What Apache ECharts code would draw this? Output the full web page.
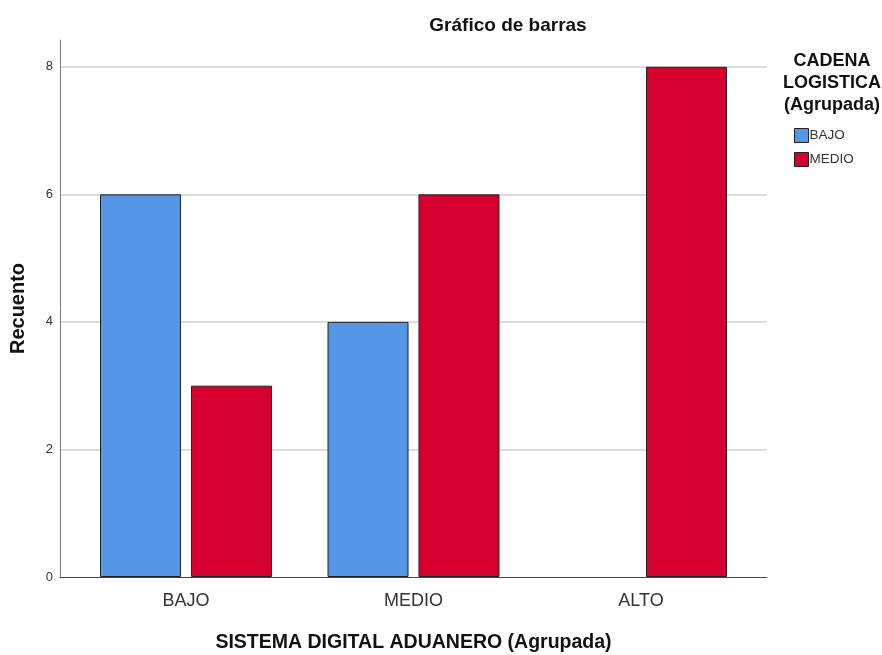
<!DOCTYPE html>
<html>
<head>
<meta charset="utf-8">
<script src="https://cdn.jsdelivr.net/npm/echarts@6/dist/echarts.min.js"></script>
<style>html,body{margin:0;padding:0;background:#fff}#c{width:882px;height:655px}</style>
</head>
<body>
<div id="c"></div>
<script>
const categories = ['BAJO', 'MEDIO', 'ALTO'];
const seriesNames = ['BAJO', 'MEDIO'];
const bajoValues = [6, 4, null];
const medioValues = [3, 6, 8];
const yTicks = [0, 2, 4, 6, 8];

const chart = echarts.init(document.getElementById('c'));
const font = 'Liberation Sans, Arial, sans-serif';
const colors = ['#5596E6', '#D6002F'];
const yMax = 8.42;

chart.setOption({
  animation: false,
  backgroundColor: '#fff',
  textStyle: { fontFamily: font },
  title: [
    { text: 'Gráfico de barras', left: 508, top: 16, textAlign: 'center', padding: 0,
      textStyle: { fontFamily: font, fontSize: 19, fontWeight: 'bold', color: '#111' } },
    { text: 'CADENA\nLOGISTICA\n(Agrupada)', left: 832, top: 50, textAlign: 'center', padding: 0,
      textStyle: { fontFamily: font, fontSize: 18, fontWeight: 'bold', color: '#111', lineHeight: 22 } }
  ],
  legend: {
    data: seriesNames, orient: 'vertical', left: 794, top: 128, padding: 0,
    itemWidth: 14, itemHeight: 14, itemGap: 9, icon: 'rect',
    textStyle: { fontFamily: font, fontSize: 13.5, color: '#333', padding: [0, 0, 0, -4] },
    itemStyle: { borderColor: '#222', borderWidth: 1 }
  },
  grid: [
    { left: 60, right: 115, top: 40, bottom: 78, outerBoundsMode: 'none', containLabel: false },
    { left: 72.25, width: 682.5, top: 40, bottom: 78, outerBoundsMode: 'none', containLabel: false }
  ],
  xAxis: [
    { type: 'value', gridIndex: 0, min: 0, max: 1, axisLabel: { show: false },
      axisTick: { show: false }, splitLine: { show: false },
      axisLine: { show: true, lineStyle: { color: '#444', width: 1 } },
      name: 'SISTEMA DIGITAL ADUANERO (Agrupada)', nameLocation: 'middle', nameGap: 56,
      nameTextStyle: { fontFamily: font, fontSize: 19.5, fontWeight: 'bold', color: '#111' } },
    { type: 'category', gridIndex: 1, data: categories,
      axisLine: { show: false }, axisTick: { show: false },
      axisLabel: { fontFamily: font, fontSize: 18, color: '#333', margin: 15 } }
  ],
  yAxis: [
    { type: 'value', gridIndex: 0, min: 0, max: yMax, interval: 2,
      axisLine: { show: true, lineStyle: { color: '#777', width: 1 } },
      axisTick: { show: false },
      axisLabel: { showMaxLabel: false, fontFamily: font, fontSize: 13, color: '#333', margin: 7,
        formatter: v => yTicks.includes(v) ? String(v) : '' },
      splitLine: { show: true, showMaxLine: false, showMinLine: false, lineStyle: { color: '#d0d0d0', width: 1.5 } },
      name: 'Recuento', nameLocation: 'middle', nameGap: 32,
      nameTextStyle: { fontFamily: font, fontSize: 20, fontWeight: 'bold', color: '#111' } },
    { type: 'value', gridIndex: 1, min: 0, max: yMax, interval: 2, show: false, splitLine: { show: false } }
  ],
  series: [
    { name: seriesNames[0], type: 'bar', xAxisIndex: 1, yAxisIndex: 1, data: bajoValues,
      barWidth: 81, barGap: '12.3%',
      itemStyle: { color: colors[0], borderColor: '#222', borderWidth: 1 } },
    { name: seriesNames[1], type: 'bar', xAxisIndex: 1, yAxisIndex: 1, data: medioValues,
      barWidth: 81, barGap: '12.3%',
      itemStyle: { color: colors[1], borderColor: '#222', borderWidth: 1 } }
  ]
});
</script>
</body>
</html>
